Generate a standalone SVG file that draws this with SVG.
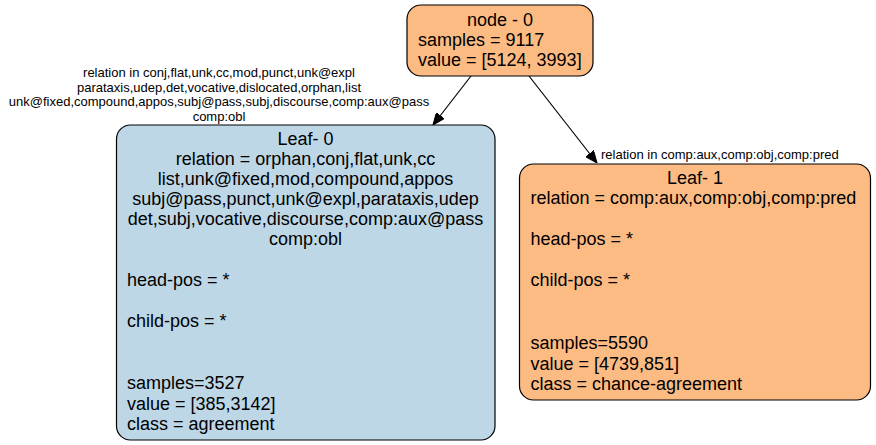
<svg xmlns="http://www.w3.org/2000/svg" width="876" height="445" viewBox="0 0 876 445">
<style>
.node{stroke:#000;stroke-width:1.2}
.orange{fill:#fdbb84}
.blue{fill:#bdd7e7}
.t{font-family:"Liberation Sans",Arial,Helvetica,sans-serif;font-size:18px;fill:#000}
.c{text-anchor:middle}
.e{font-family:"Liberation Sans",Arial,Helvetica,sans-serif;font-size:13px;fill:#000}
.edge{stroke:#000;stroke-width:1.2;fill:none}
</style>
<defs>
<marker id="arr" markerWidth="12" markerHeight="10" refX="12" refY="5" orient="auto" markerUnits="userSpaceOnUse">
<path d="M0,0 L12,5 L0,10 Z" fill="#000" stroke="#000"/>
</marker>
</defs>
<rect width="876" height="445" fill="#fff"/>
<g id="connectors">
<path class="edge" d="M471,76 L433,125" marker-end="url(#arr)"/>
<path class="edge" d="M529,76 L597,163" marker-end="url(#arr)"/>
<text class="e c" x="219" y="77">relation in conj,flat,unk,cc,mod,punct,unk@expl</text>
<text class="e c" x="219" y="91.5">parataxis,udep,det,vocative,dislocated,orphan,list</text>
<text class="e c" x="219" y="106">unk@fixed,compound,appos,subj@pass,subj,discourse,comp:aux@pass</text>
<text class="e c" x="219" y="120.5">comp:obl</text>
<text class="e" x="601" y="159">relation in comp:aux,comp:obj,comp:pred</text>
</g>
<g id="node0">
<rect class="node orange" x="407" y="5" width="186" height="71" rx="14" ry="14"/>
<text class="t c" x="500" y="26">node - 0</text>
<text class="t" x="418" y="46">samples = 9117</text>
<text class="t" x="418" y="66">value = [5124, 3993]</text>
</g>
<g id="leaf0">
<rect class="node blue" x="116.5" y="125" width="378.5" height="315" rx="14" ry="14"/>
<text class="t c" x="305.5" y="144.5">Leaf- 0</text>
<text class="t c" x="305.5" y="164.8">relation = orphan,conj,flat,unk,cc</text>
<text class="t c" x="305.5" y="185">list,unk@fixed,mod,compound,appos</text>
<text class="t c" x="305.5" y="205">subj@pass,punct,unk@expl,parataxis,udep</text>
<text class="t c" x="305.5" y="225">det,subj,vocative,discourse,comp:aux@pass</text>
<text class="t c" x="305.5" y="245">comp:obl</text>
<text class="t" x="127" y="285.5">head-pos = *</text>
<text class="t" x="127" y="327">child-pos = *</text>
<text class="t" x="127" y="389">samples=3527</text>
<text class="t" x="127" y="410">value = [385,3142]</text>
<text class="t" x="127" y="430">class = agreement</text>
</g>
<g id="leaf1">
<rect class="node orange" x="519.5" y="164" width="351" height="236" rx="14" ry="14"/>
<text class="t c" x="695" y="184">Leaf- 1</text>
<text class="t" x="530.5" y="204">relation = comp:aux,comp:obj,comp:pred</text>
<text class="t" x="530.5" y="245">head-pos = *</text>
<text class="t" x="530.5" y="286">child-pos = *</text>
<text class="t" x="530.5" y="349">samples=5590</text>
<text class="t" x="530.5" y="370">value = [4739,851]</text>
<text class="t" x="530.5" y="390">class = chance-agreement</text>
</g>
</svg>
